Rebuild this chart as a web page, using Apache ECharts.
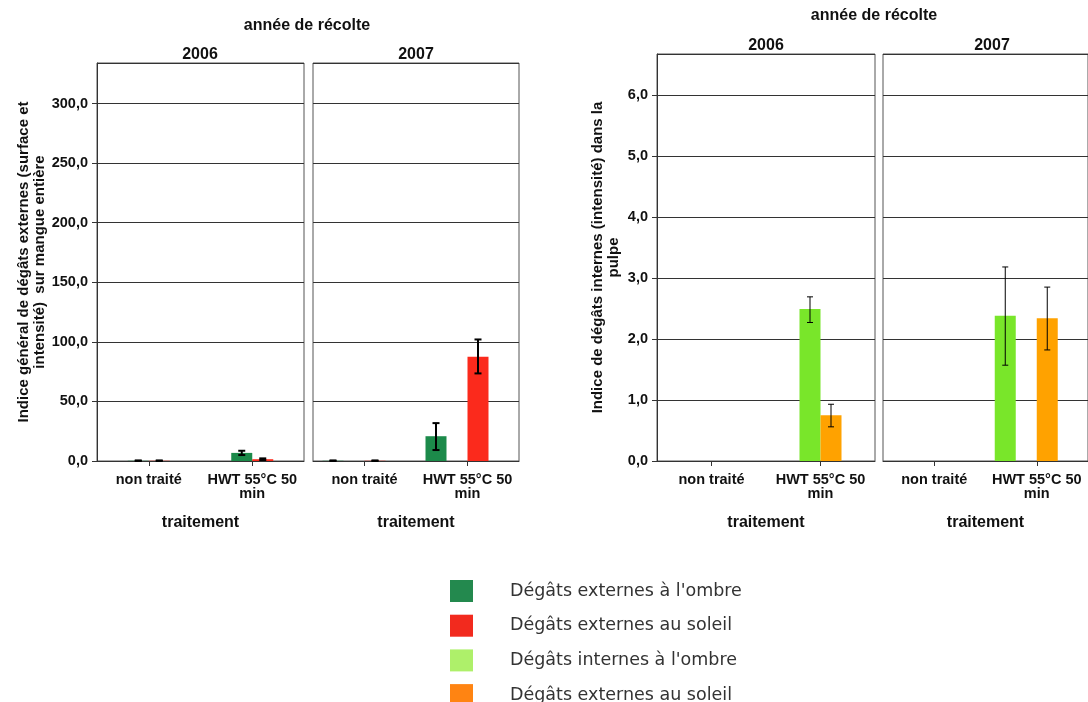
<!DOCTYPE html>
<html>
<head>
<meta charset="utf-8">
<script src="https://cdn.jsdelivr.net/npm/echarts@6/dist/echarts.min.js"></script>
<style>
  html, body { margin: 0; padding: 0; background: #fff; }
  #chart { width: 1088px; height: 702px; }
</style>
</head>
<body>
<div id="chart"></div>
<script>
// ---------------- DATA ----------------
const categories = ['non traité', 'HWT 55°C 50\nmin'];
const years = ['2006', '2007'];

// Left panel: external damage index (surface & intensity) on whole mango
const extOmbre2006 = [0.2, 6.8];
const extOmbre2006Low = [0.0, 5.0];
const extOmbre2006High = [0.5, 8.6];
const extSoleil2006 = [0.2, 1.5];
const extSoleil2006Low = [0.0, 0.8];
const extSoleil2006High = [0.5, 2.2];

const extOmbre2007 = [0.2, 20.8];
const extOmbre2007Low = [0.0, 9.2];
const extOmbre2007High = [0.5, 31.8];
const extSoleil2007 = [0.2, 87.5];
const extSoleil2007Low = [0.0, 73.5];
const extSoleil2007High = [0.5, 102.0];

// Right panel: internal damage index (intensity) in pulp
const intOmbre2006 = [0, 2.49];
const intOmbre2006Low = [null, 2.27];
const intOmbre2006High = [null, 2.69];
const intSoleil2006 = [0, 0.75];
const intSoleil2006Low = [null, 0.56];
const intSoleil2006High = [null, 0.93];

const intOmbre2007 = [0, 2.38];
const intOmbre2007Low = [null, 1.57];
const intOmbre2007High = [null, 3.18];
const intSoleil2007 = [0, 2.34];
const intSoleil2007Low = [null, 1.82];
const intSoleil2007High = [null, 2.85];

const legendKeys = ['extOmbre', 'extSoleil', 'intOmbre', 'intSoleil'];
const legendLabels = ["Dégâts externes à l'ombre", 'Dégâts externes au soleil',
                      "Dégâts internes à l'ombre", 'Dégâts externes au soleil'];

// ---------------- STYLE / LAYOUT ----------------
const FONT = '"Liberation Sans", Arial, sans-serif';
const barColors = { extOmbre: '#1c8a4a', extSoleil: '#fb2a1c', intOmbre: '#79e62a', intSoleil: '#ffa200' };
const legendColors = { extOmbre: '#23894e', extSoleil: '#f22a1e', intOmbre: '#aef06a', intSoleil: '#ff8412' };
const BAR_W = 21;

// each facet: grid rect, y-axis spec, 4 cluster slots
const facets = [
  { grid: { left: 97, top: 63, width: 207, height: 398 }, yMax: 334, yInt: 50, showY: true, nameGap: 47,
    yName: 'Indice général de dégâts externes (surface et\nintensité)  sur mangue entière', errW: 2,
    slots: [null,
      { key: 'extOmbre', v: extOmbre2006, lo: extOmbre2006Low, hi: extOmbre2006High },
      { key: 'extSoleil', v: extSoleil2006, lo: extSoleil2006Low, hi: extSoleil2006High }, null] },
  { grid: { left: 313, top: 63, width: 206, height: 398 }, yMax: 334, yInt: 50, showY: false, errW: 2,
    slots: [
      { key: 'extOmbre', v: extOmbre2007, lo: extOmbre2007Low, hi: extOmbre2007High }, null,
      { key: 'extSoleil', v: extSoleil2007, lo: extSoleil2007Low, hi: extSoleil2007High }, null] },
  { grid: { left: 657, top: 54, width: 218, height: 407 }, yMax: 6.67, yInt: 1, showY: true, nameGap: 35,
    yName: 'Indice de dégâts internes (intensité) dans la\npulpe', errW: 1,
    slots: [null,
      { key: 'intOmbre', v: intOmbre2006, lo: intOmbre2006Low, hi: intOmbre2006High },
      { key: 'intSoleil', v: intSoleil2006, lo: intSoleil2006Low, hi: intSoleil2006High }, null] },
  { grid: { left: 883, top: 54, width: 220, height: 407 }, yMax: 6.67, yInt: 1, showY: false, errW: 1,
    slots: [
      { key: 'intOmbre', v: intOmbre2007, lo: intOmbre2007Low, hi: intOmbre2007High }, null,
      { key: 'intSoleil', v: intSoleil2007, lo: intSoleil2007Low, hi: intSoleil2007High }, null] }
];

const grids = [], xAxes = [], yAxes = [], series = [];
facets.forEach((f, i) => {
  grids.push(Object.assign({ show: true, borderColor: '#555', borderWidth: 1, backgroundColor: '#fff' }, f.grid));
  xAxes.push({
    type: 'category', gridIndex: i, data: categories,
    axisLine: { show: true, lineStyle: { color: '#333', width: 1 } },
    axisTick: { show: true, alignWithLabel: true, length: 5, lineStyle: { color: '#333' } },
    axisLabel: { margin: 12, color: '#111', fontFamily: FONT, fontWeight: 'bold', fontSize: 14.5, lineHeight: 14, interval: 0 },
    name: 'traitement', nameLocation: 'middle', nameGap: 54,
    nameTextStyle: { color: '#111', fontFamily: FONT, fontWeight: 'bold', fontSize: 16 }
  });
  yAxes.push({
    type: 'value', gridIndex: i, min: 0, max: f.yMax, interval: f.yInt,
    axisLine: { show: f.showY, lineStyle: { color: '#333' } },
    axisTick: { show: f.showY, length: 5, lineStyle: { color: '#333' } },
    axisLabel: {
      show: f.showY, margin: 9, color: '#111', fontFamily: FONT, fontWeight: 'bold', fontSize: 14.5,
      showMaxLabel: false,
      formatter: v => (Math.abs(v / f.yInt - Math.round(v / f.yInt)) < 1e-6) ? v.toFixed(1).replace('.', ',') : ''
    },
    splitLine: { show: true, lineStyle: { color: '#333', width: 1 } },
    name: f.yName || '', nameLocation: 'middle', nameRotate: 90, nameGap: f.nameGap || 0,
    nameTextStyle: { color: '#111', fontFamily: FONT, fontWeight: 'bold', fontSize: 15, lineHeight: 16 }
  });
  f.slots.forEach((s, si) => {
    const offset = (si - 1.5) * BAR_W;
    if (!s) {
      series.push({ type: 'bar', name: '_pad', xAxisIndex: i, yAxisIndex: i, data: categories.map(() => null),
        barWidth: BAR_W, barGap: '0%', silent: true });
      return;
    }
    series.push({
      type: 'bar', name: s.key, xAxisIndex: i, yAxisIndex: i, data: s.v,
      barWidth: BAR_W, barGap: '0%', itemStyle: { color: barColors[s.key] }, silent: true
    });
    const errData = [];
    s.v.forEach((val, ci) => { if (s.lo[ci] != null && s.hi[ci] != null) errData.push([ci, s.lo[ci], s.hi[ci]]); });
    const lw = f.errW, cap = f.errW === 2 ? 3.5 : 3;
    series.push({
      type: 'custom', name: s.key + '_err', xAxisIndex: i, yAxisIndex: i, z: 5, silent: true,
      data: errData, encode: { x: 0, y: [1, 2] },
      renderItem: (params, api) => {
        const c = api.value(0);
        const pLo = api.coord([c, api.value(1)]);
        const pHi = api.coord([c, api.value(2)]);
        const x = pLo[0] + offset;
        const st = { stroke: '#000', lineWidth: lw };
        return { type: 'group', children: [
          { type: 'line', shape: { x1: x, y1: pLo[1], x2: x, y2: pHi[1] }, style: st },
          { type: 'line', shape: { x1: x - cap, y1: pHi[1], x2: x + cap, y2: pHi[1] }, style: st },
          { type: 'line', shape: { x1: x - cap, y1: pLo[1], x2: x + cap, y2: pLo[1] }, style: st }
        ] };
      }
    });
  });
});

function txt(x, y, text, size) {
  return { type: 'text', x: x, y: y, silent: true,
    style: { text: text, fill: '#111', font: 'bold ' + size + 'px ' + FONT,
             align: 'center', verticalAlign: 'middle', textAlign: 'center', textVerticalAlign: 'middle' } };
}
const graphics = [
  txt(307, 26, 'année de récolte', 16),
  txt(200, 55, years[0], 16),
  txt(416, 55, years[1], 16),
  txt(874, 16, 'année de récolte', 16),
  txt(766, 46, years[0], 16),
  txt(992, 46, years[1], 16)
];

const chart = echarts.init(document.getElementById('chart'), null, { renderer: 'canvas' });
chart.setOption({
  animation: false,
  backgroundColor: '#fff',
  grid: grids, xAxis: xAxes, yAxis: yAxes, series: series,
  graphic: graphics,
  legend: {
    orient: 'vertical', left: 450, top: 580, padding: 0, height: 200, width: 400,
    itemWidth: 23, itemHeight: 22, itemGap: 12.7, selectedMode: false, icon: 'rect',
    data: legendKeys.map(k => ({ name: k, itemStyle: { color: legendColors[k] } })),
    formatter: name => legendLabels[legendKeys.indexOf(name)],
    textStyle: { fontFamily: '"DejaVu Sans", Verdana, sans-serif', fontSize: 17.5, color: '#333', padding: [0, 0, 0, 32] }
  }
});
</script>
</body>
</html>
